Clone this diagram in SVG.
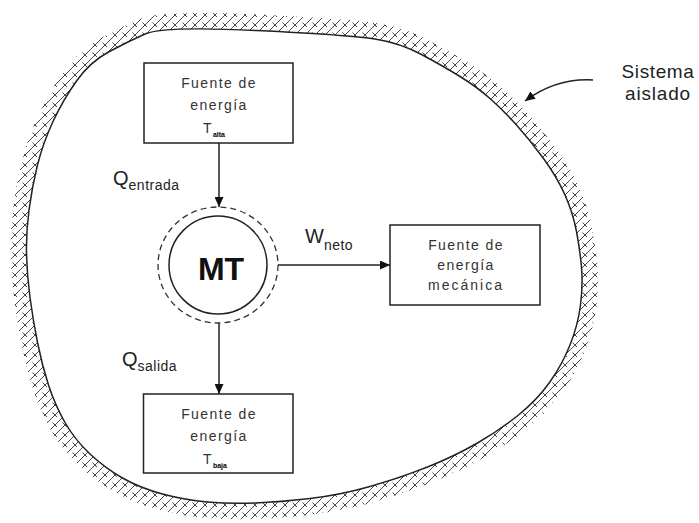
<svg xmlns="http://www.w3.org/2000/svg" width="699" height="523" viewBox="0 0 699 523">
<style>
  .box rect{fill:#fff;stroke:#222;stroke-width:1.5}
  .bt{font-family:"Liberation Sans",Arial,sans-serif;font-size:14px;letter-spacing:1.4px;fill:#333;text-anchor:middle}
  .lbl{font-family:"Liberation Sans",Arial,sans-serif;font-size:20px;fill:#222}
  .sub{font-size:14px;letter-spacing:0.5px}
  .tiny{font-size:7px;font-weight:bold;letter-spacing:0;fill:#000}
  .conn path{fill:none;stroke:#222;stroke-width:1.5}
</style>
<defs>
  <marker id="ah" markerUnits="userSpaceOnUse" markerWidth="10" markerHeight="9" refX="10" refY="4.5" orient="auto">
    <path d="M0,0 L10,4.5 L0,9 Z" fill="#111"/>
  </marker>
  <pattern id="hatch" patternUnits="userSpaceOnUse" width="10" height="10">
    <path d="M0,10 L10,0 M-1,1 L1,-1 M9,11 L11,9 M2.5,2.5 L7,7" stroke="#333" stroke-width="0.9" fill="none"/>
  </pattern>
  <path id="bpath" d="M145,34 Q163,26 256.5,30.5 Q350,35 375,39 Q400,43 421.5,54.5 Q443,66 460,76.5 Q477,87 490,98.5 Q503,110 516.5,125 Q530,140 543.5,158.5 Q557,177 565,195 Q573,213 576.5,231.5 Q580,250 581.5,267.5 Q583,285 580.5,305 Q578,325 570,345 Q562,365 549.5,382.5 Q537,400 518.5,415 Q500,430 477.5,443 Q455,456 427.5,467 Q400,478 370,486.5 Q340,495 310,498.5 Q280,502 255,503 Q230,504 207.5,502 Q185,500 162.5,494 Q140,488 122.5,478 Q105,468 90,454 Q75,440 65,422.5 Q55,405 48.5,385 Q42,365 37.5,342.5 Q33,320 30,297.5 Q27,275 26.5,254 Q26,233 29,210 Q32,187 37.5,165 Q43,143 53,121.5 Q63,100 76.5,81 Q90,62 108.5,52 Q127,42 145,34 Z"/>
</defs>
<rect width="699" height="523" fill="#fff"/>
<g id="boundary">
  <use href="#bpath" fill="none" stroke="url(#hatch)" stroke-width="32"/>
  <use href="#bpath" fill="#fff" stroke="none"/>
  <use href="#bpath" fill="none" stroke="#222" stroke-width="1.5"/>
</g>
<g id="label-sistema">
  <text class="lbl" x="658" y="78" text-anchor="middle" style="font-size:19px;letter-spacing:0.6px">Sistema</text>
  <text class="lbl" x="658" y="100" text-anchor="middle" style="font-size:19px;letter-spacing:0.8px">aislado</text>
</g>
<g class="conn" id="connectors">
  <path d="M219,143 V207" marker-end="url(#ah)"/>
  <path d="M278,265 H390" marker-end="url(#ah)"/>
  <path d="M219,323 V394" marker-end="url(#ah)"/>
  <path d="M593,80 Q556,78 525,101" marker-end="url(#ah)"/>
</g>
<g class="box" id="fuente-alta">
  <rect x="144" y="63" width="149" height="80"/>
  <text class="bt" x="219" y="88">Fuente de</text>
  <text class="bt" x="219" y="110">energía</text>
  <text class="bt" x="203" y="133" style="text-anchor:start">T<tspan class="tiny" dy="4">alta</tspan></text>
</g>
<g class="box" id="fuente-mecanica">
  <rect x="390" y="225" width="150" height="80"/>
  <text class="bt" x="466" y="250">Fuente de</text>
  <text class="bt" x="466" y="270">energía</text>
  <text class="bt" x="466" y="290" style="letter-spacing:2px">mecánica</text>
</g>
<g class="box" id="fuente-baja">
  <rect x="143.5" y="394" width="149.5" height="79"/>
  <text class="bt" x="219" y="419">Fuente de</text>
  <text class="bt" x="219" y="441">energía</text>
  <text class="bt" x="203" y="464" style="text-anchor:start">T<tspan class="tiny" dy="4">baja</tspan></text>
</g>
<g id="mt">
  <ellipse cx="218" cy="265" rx="60" ry="58" fill="none" stroke="#333" stroke-width="1.3" stroke-dasharray="6 4"/>
  <circle cx="218" cy="265" r="49" fill="none" stroke="#222" stroke-width="1.5"/>
  <text x="221" y="280" text-anchor="middle" style="font-family:'Liberation Sans',Arial,sans-serif;font-size:32px;font-weight:bold;fill:#111">MT</text>
</g>
<g id="labels">
  <text class="lbl" x="113" y="185">Q<tspan class="sub" dy="5">entrada</tspan></text>
  <text class="lbl" x="122" y="366">Q<tspan class="sub" dy="5">salida</tspan></text>
  <text class="lbl" x="305" y="243">W<tspan class="sub" dy="7">neto</tspan></text>
</g>
</svg>
